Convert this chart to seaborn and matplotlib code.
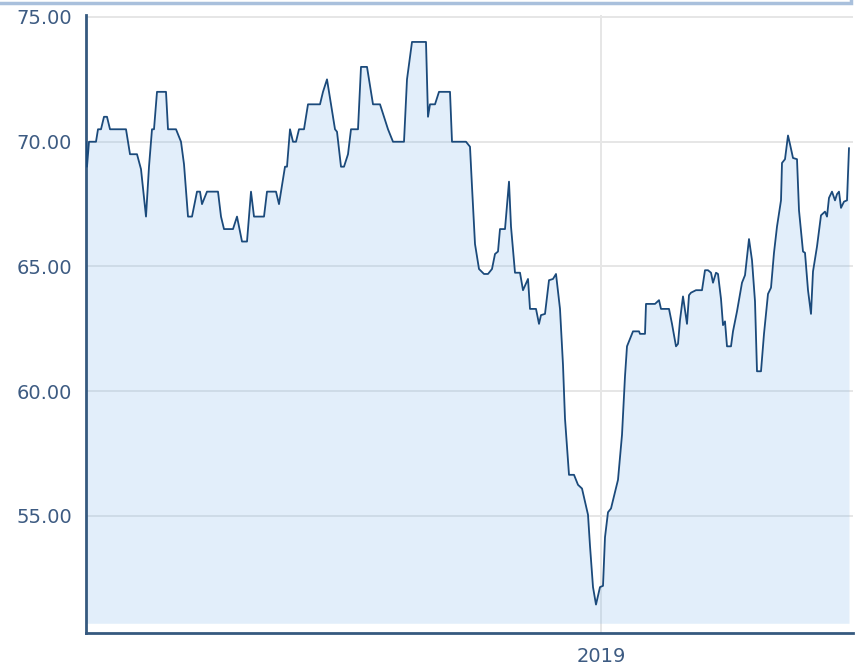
#!/usr/bin/env python3
import numpy as np
import pandas as pd
import matplotlib
matplotlib.use("Agg")
import matplotlib.pyplot as plt
from matplotlib.patches import Rectangle
import seaborn as sns


# series: day offset from the start date, price
START_DATE = "2017-08-04"
DAYS = [
    0, 1, 3, 10, 12, 15, 18, 21, 24, 40, 44, 51, 55, 60, 63, 66, 68, 71, 80, 82,
    90, 95, 98, 102, 106, 111, 114, 116, 121, 132, 135, 138, 147, 151, 156, 161,
    165, 168, 178, 181, 190, 193, 195, 199, 201, 204, 207, 210, 213, 218, 222,
    234, 237, 241, 245, 249, 251, 255, 258, 262, 265, 272, 275, 281, 287, 294,
    298, 302, 307, 318, 321, 326, 340, 342, 344, 349, 353, 364, 366, 380, 384,
    386, 389, 393, 398, 402, 406, 409, 412, 414, 419, 423, 425, 429, 434, 437,
    442, 444, 450, 453, 455, 459, 463, 467, 470, 474, 477, 479, 483, 488, 492,
    496, 502, 504, 507, 510, 514, 517, 519, 522, 525, 532, 536, 539, 541, 543,
    547, 553, 554, 559, 560, 569, 573, 575, 583, 586, 590, 592, 594, 597, 601,
    603, 605, 610, 616, 619, 622, 625, 627, 630, 632, 635, 637, 639, 641, 645,
    647, 651, 656, 659, 663, 666, 669, 671, 675, 678, 682, 685, 688, 691, 695,
    696, 699, 702, 704, 707, 711, 713, 717, 719, 722, 725, 727, 731, 735, 739,
    741, 743, 746, 749, 751, 753, 755, 758, 761, 763,
]
PRICES = [
    70.0, 69.0, 70.0, 70.0, 70.5, 70.5, 71.0, 71.0, 70.5, 70.5, 69.5, 69.5, 68.9,
    67.0, 69.0, 70.5, 70.5, 72.0, 72.0, 70.5,
    70.5, 70.0, 69.1, 67.0, 67.0, 68.0, 68.0, 67.5, 68.0, 68.0, 67.0, 66.5, 66.5,
    67.0, 66.0, 66.0,
    68.0, 67.0, 67.0, 68.0, 68.0, 67.5, 68.0, 69.0, 69.0, 70.5, 70.0, 70.0, 70.5,
    70.5, 71.5,
    71.5, 72.0, 72.5, 71.5, 70.5, 70.4, 69.0, 69.0, 69.5, 70.5, 70.5, 73.0, 73.0,
    71.5, 71.5,
    71.0, 70.5, 70.0, 70.0, 72.5, 74.0, 74.0, 71.0, 71.5, 71.5, 72.0, 72.0, 70.0,
    70.0, 69.8,
    68.2, 65.9, 64.9, 64.7, 64.7, 64.9, 65.5, 65.6, 66.5, 66.5, 68.4, 66.6, 64.75,
    64.75, 64.05,
    64.5, 63.3, 63.3, 62.7, 63.05, 63.1, 64.45, 64.5, 64.7, 63.3, 61.05, 58.9,
    56.65, 56.65, 56.25,
    56.1, 55.05, 53.8, 52.15, 51.45, 52.15, 52.2, 54.15, 55.15, 55.3, 56.45, 58.25,
    60.6, 61.8, 62.0,
    62.4, 62.4, 62.3, 62.3, 63.5, 63.5, 63.65, 63.3, 63.3, 62.7, 61.8, 61.9, 62.85,
    63.8, 62.7,
    63.85, 63.95, 64.05, 64.05, 64.85, 64.85, 64.75, 64.35, 64.75, 64.7, 63.7,
    62.65, 62.8, 61.8, 61.8,
    62.4, 63.2, 64.35, 64.65, 66.1, 65.25, 63.6, 60.8, 60.8, 62.3, 63.9, 64.15,
    65.55, 66.6, 67.65,
    69.15, 69.3, 70.25, 69.9, 69.35, 69.3, 67.25, 65.6, 65.55, 64.05, 63.1, 64.8,
    65.8, 67.05, 67.2,
    67.0, 67.75, 68.0, 67.65, 67.9, 68.0, 67.35, 67.6, 67.65, 69.75,
]
Y_TICKS = [55, 60, 65, 70, 75]
X_TICK_DATES = ["2019-01-01"]
X_TICK_LABELS = ["2019"]

LINE_COLOR = "#1b4a7b"
FILL_COLOR = "#7cb5ec"
TEXT_COLOR = "#3d5b82"
AXIS_COLOR = "#35597f"
GRID_COLOR = "#e6e6e6"


def main():
    df = pd.DataFrame({
        "date": pd.to_datetime(START_DATE) + pd.to_timedelta(DAYS, unit="D"),
        "price": PRICES,
    })

    sns.set_theme(style="white")
    plt.rcParams["font.family"] = ["DejaVu Sans"]

    fig = plt.figure(figsize=(8.55, 6.66), dpi=100)
    ax = fig.add_axes([86 / 855, 33 / 666, 767 / 855, 618 / 666])

    ax.fill_between(df["date"], df["price"], 50.7, color=FILL_COLOR,
                    alpha=0.22, linewidth=0, zorder=1)
    sns.lineplot(data=df, x="date", y="price", color=LINE_COLOR,
                 linewidth=1.3, estimator=None, ax=ax, zorder=4)

    start = df["date"].iloc[0]
    ax.set_xlim(start, start + pd.Timedelta(days=767))
    ax.set_ylim(50.31, 75.08)

    ax.set_yticks(Y_TICKS)
    ax.set_yticklabels([f"{v:.2f}" for v in Y_TICKS])
    ax.set_xticks(pd.to_datetime(X_TICK_DATES))
    ax.set_xticklabels(X_TICK_LABELS)

    ax.grid(True, color=GRID_COLOR, linewidth=1.4)
    ax.set_axisbelow(True)
    ax.set_xlabel("")
    ax.set_ylabel("")

    ax.tick_params(axis="y", length=0, pad=10, labelsize=14, labelcolor=TEXT_COLOR)
    ax.tick_params(axis="x", length=0, pad=10, labelsize=14, labelcolor=TEXT_COLOR)

    for side in ["top", "right"]:
        ax.spines[side].set_visible(False)
    for side in ["left", "bottom"]:
        ax.spines[side].set_color(AXIS_COLOR)
        ax.spines[side].set_linewidth(2)

    # thin frame edge that peeks in at the top of the image
    fig.add_artist(Rectangle((-2, 663), 853, 20, transform=None, fill=False,
                             edgecolor="#a9c0dc", linewidth=2.5))

    fig.savefig("out.png", dpi=100)
    plt.close(fig)


if __name__ == "__main__":
    main()
